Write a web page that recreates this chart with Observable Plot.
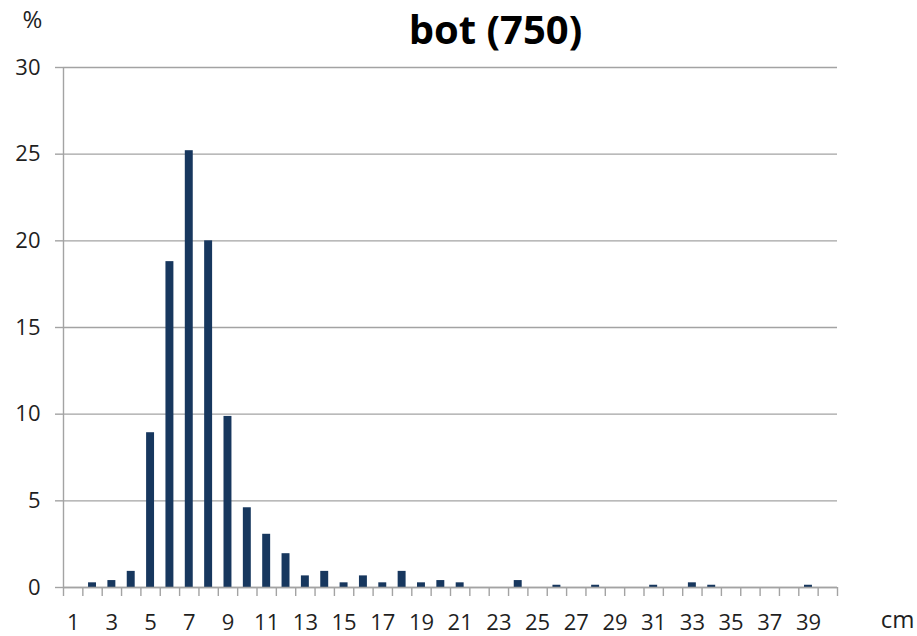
<!DOCTYPE html>
<html>
<head>
<meta charset="utf-8">
<script src="https://cdn.jsdelivr.net/npm/d3@7"></script>
<script src="https://cdn.jsdelivr.net/npm/@observablehq/plot@0.6"></script>
<style>
  html, body { margin: 0; padding: 0; background: #fff; }
</style>
</head>
<body>
<div id="chart"></div>
<script>
const title = "bot (750)";
const yLabel = "%";
const xLabel = "cm";
const cm = [1,2,3,4,5,6,7,8,9,10,11,12,13,14,15,16,17,18,19,20,21,22,23,24,25,26,27,28,29,30,31,32,33,34,35,36,37,38,39,40];
const pct = [0, 0.27, 0.4, 0.93, 8.93, 18.8, 25.2, 20.0, 9.87, 4.6, 3.07, 1.95, 0.67, 0.93, 0.27, 0.67, 0.27, 0.93, 0.27, 0.4,
             0.27, 0, 0, 0.4, 0, 0.13, 0, 0.13, 0, 0, 0.13, 0, 0.27, 0.13, 0, 0, 0, 0, 0.13, 0];
const xTickLabels = [1,3,5,7,9,11,13,15,17,19,21,23,25,27,29,31,33,35,37,39];
const yTicks = [0,5,10,15,20,25,30];

const data = cm.map((c, i) => ({cm: c, pct: pct[i]}));
const boundaries = [...cm.map(c => c - 0.5), cm[cm.length - 1] + 0.5];

const gray = "#a3a3a3";
const textColor = "#1f1f1f";

const chart = Plot.plot({
  width: 917,
  height: 636,
  marginTop: 67,
  marginBottom: 49,
  marginLeft: 63,
  marginRight: 80,
  style: {fontFamily: "'Open Sans', sans-serif", fontSize: "22px", background: "#fff"},
  x: {type: "linear", domain: [0.5, 40.5]},
  y: {domain: [0, 30]},
  marks: [
    Plot.gridY(yTicks, {stroke: gray, strokeOpacity: 1, strokeWidth: 1.4}),
    Plot.ruleX([0.5], {stroke: gray, strokeWidth: 1.4}),
    Plot.axisY(yTicks, {tickSize: 8, tickPadding: 15, stroke: gray, strokeWidth: 1.4, fill: textColor, fontSize: 22, label: null}),
    Plot.axisX(boundaries, {tickSize: 9, tickFormat: () => "", stroke: gray, strokeWidth: 1.4, label: null}),
    Plot.axisX(xTickLabels, {tickSize: 0, tickPadding: 27, fill: textColor, fontSize: 22, label: null}),
    Plot.rectY(data, {x1: d => d.cm - 0.5, x2: d => d.cm + 0.5, y: "pct", insetLeft: 5.7, insetRight: 5.7, fill: "#17375e"}),
    Plot.ruleY([0], {stroke: gray, strokeWidth: 1.4}),
    Plot.text([title], {frameAnchor: "top", dx: 45, dy: -36, lineAnchor: "middle", fontSize: 40, fontWeight: "bold", fill: "#000"}),
    Plot.text([yLabel], {frameAnchor: "top-left", dx: -31, dy: -47, textAnchor: "middle", lineAnchor: "middle", fontSize: 24, fill: textColor}),
    Plot.text([xLabel], {frameAnchor: "bottom-right", dx: 60, dy: 33, textAnchor: "middle", lineAnchor: "middle", fontSize: 24, fill: textColor})
  ]
});
document.getElementById("chart").appendChild(chart);
</script>
</body>
</html>
